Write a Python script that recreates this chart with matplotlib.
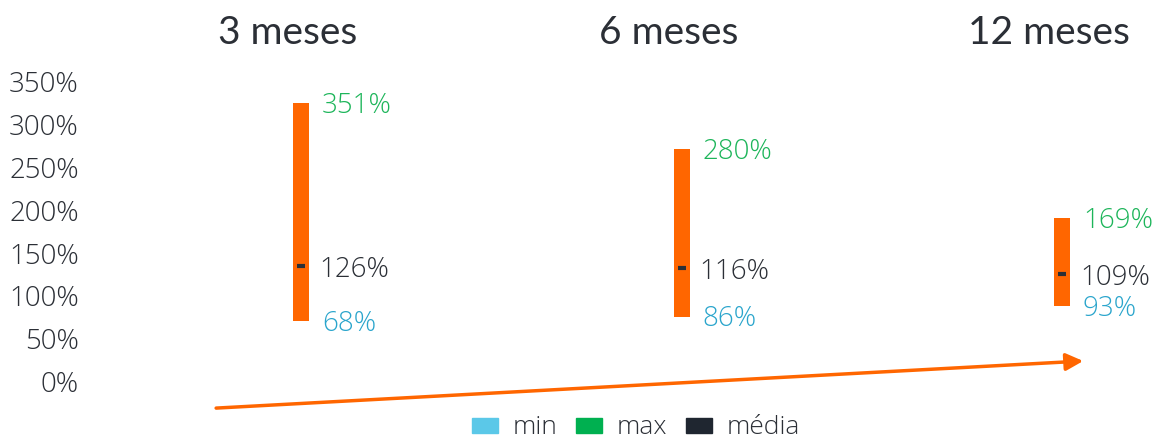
import matplotlib.pyplot as plt
from matplotlib.patches import Patch
from matplotlib.transforms import blended_transform_factory

# periods and the printed figures
periods = ['3 meses', '6 meses', '12 meses']
max_labels = [351, 280, 169]
mean_labels = [126, 116, 109]
min_labels = [68, 86, 93]

# where the bars / markers sit on the axis
bar_low = [71, 76, 88]
bar_high = [325, 271, 191]
mean_pos = [135, 133, 126]

yticks = [0, 50, 100, 150, 200, 250, 300, 350]

orange = '#FF6600'
green = '#1DB55A'
blue = '#2AA5CC'
dark = '#2B2F36'
legend_blue = '#5BC8E8'
legend_green = '#00B050'
legend_dark = '#1F2630'

plt.rcParams['font.family'] = ['Open Sans', 'DejaVu Sans']
W = 300  # light weight for numbers

fig = plt.figure(figsize=(11.58, 4.41), dpi=100)
ax = fig.add_axes([90 / 1158, 59.3 / 441, 1060 / 1158, 300 / 441])

x = list(range(len(periods)))
heights = [h - l for h, l in zip(bar_high, bar_low)]
ax.bar(x, heights, bottom=bar_low, width=16 / 380.5, color=orange, zorder=2)
ax.scatter(x, mean_pos, marker='_', s=30, linewidths=3, color=dark, zorder=3)

for i in x:
    ax.annotate(f'{max_labels[i]}%', (i, bar_high[i]), xytext=(15, -2),
                textcoords='offset points', va='center', ha='left',
                fontsize=20, color=green, fontweight=W)
    ax.annotate(f'{mean_labels[i]}%', (i, mean_pos[i]), xytext=(13, -3),
                textcoords='offset points', va='center', ha='left',
                fontsize=20, color=dark, fontweight=W)
    ax.annotate(f'{min_labels[i]}%', (i, bar_low[i]), xytext=(15, -2),
                textcoords='offset points', va='center', ha='left',
                fontsize=20, color=blue, fontweight=W)

trans = blended_transform_factory(ax.transData, fig.transFigure)
for i, p in enumerate(periods):
    ax.text(i - 0.035, 0.925, p, transform=trans, ha='center', va='center',
            fontsize=28, color=dark, family=['Lato', 'DejaVu Sans'])

# trend arrow
ax.annotate('', xy=(0.937, 0.069), xytext=(0.119, -0.088),
            xycoords='axes fraction', textcoords='axes fraction',
            arrowprops=dict(arrowstyle='-|>', color=orange, lw=2.5,
                            mutation_scale=26, shrinkA=0, shrinkB=0),
            annotation_clip=False)

ax.set_xlim(-0.5545, 2.231)
ax.set_ylim(0, 350)
ax.set_yticks(yticks)
ax.set_yticklabels([f'{t}%' for t in yticks], fontsize=20, color=dark,
                   fontweight=W)
ax.set_xticks([])
ax.tick_params(axis='y', length=0, pad=8)
for s in ax.spines.values():
    s.set_visible(False)

handles = [Patch(color=legend_blue, label='min'),
           Patch(color=legend_green, label='max'),
           Patch(color=legend_dark, label='média')]
fig.legend(handles=handles, loc='center', bbox_to_anchor=(0.549, 13 / 441),
           ncol=3, frameon=False, handlelength=1.0,
           handleheight=0.5, handletextpad=0.55, columnspacing=0.7,
           labelcolor=dark, prop={'size': 19, 'weight': W})

fig.savefig('out.png', dpi=100)
